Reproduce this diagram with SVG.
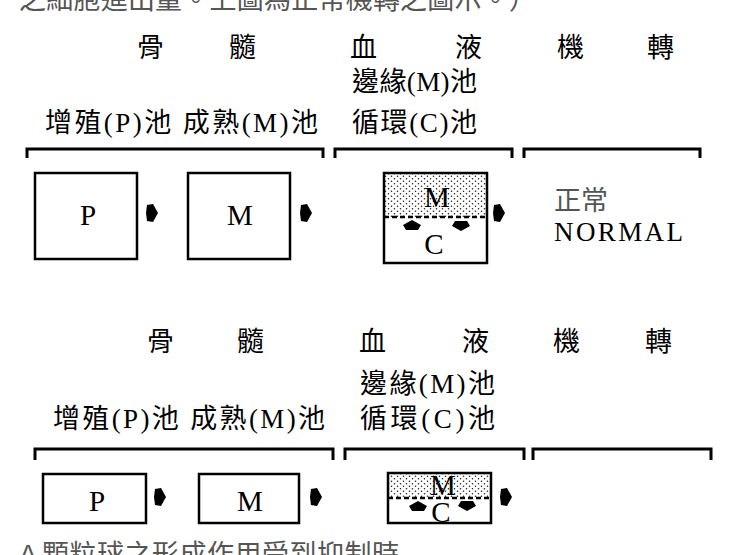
<svg xmlns="http://www.w3.org/2000/svg" width="732" height="555" viewBox="0 0 732 555">
<defs>
<pattern id="dots" width="6" height="5" patternUnits="userSpaceOnUse">
<rect width="6" height="5" fill="#fff"/>
<circle cx="1.5" cy="1.2" r="0.8" fill="#222"/>
<circle cx="4.5" cy="3.7" r="0.8" fill="#222"/>
</pattern>
<path id="arr" d="M-5,-8 L1,-9 L6,0 L1,9 L-5,8 L-6,0 Z" fill="#000"/>
<path id="up" d="M0,-6 L9,-1 L6,4 L-6,4 L-9,-1 Z" fill="#000"/>
<path id="down" d="M0,6 L9,1 L6,-4 L-6,-4 L-9,1 Z" fill="#000"/>
</defs>
<style>
.t{font-family:"Liberation Serif","Noto Sans CJK TC",serif;font-size:27px;fill:#000}
.g{fill:#555}
.l{font-family:"Liberation Serif",serif;font-size:29px;text-anchor:middle;fill:#000}
.box{fill:#fff;stroke:#000;stroke-width:2.5}
.br{fill:none;stroke:#000;stroke-width:3}
.dash{stroke:#000;stroke-width:2.5;stroke-dasharray:5 3}
</style>
<rect width="732" height="555" fill="#fff"/>

<text class="t g" x="19" y="9" font-size="26" textLength="517">之細胞進出量。上圖為正常機轉之圖示。）</text>

<g id="top-headers">
<text class="t" x="137" y="57">骨</text>
<text class="t" x="229" y="57">髓</text>
<text class="t" x="350" y="57">血</text>
<text class="t" x="455" y="57">液</text>
<text class="t" x="557" y="57">機</text>
<text class="t" x="647" y="57">轉</text>
<text class="t" x="352" y="91" textLength="125">邊緣(M)池</text>
<text class="t" x="45" y="132" textLength="273">增殖(P)池 成熟(M)池</text>
<text class="t" x="352" y="132" textLength="125">循環(C)池</text>
<path class="br" d="M27,158 V149 H323 V158"/>
<path class="br" d="M335,158 V149 H512 V158"/>
<path class="br" d="M524,158 V149 H700 V158"/>
</g>

<g id="top-P"><rect class="box" x="35" y="173" width="102" height="86"/><text class="l" x="88" y="225">P</text></g>
<g id="top-M"><rect class="box" x="188" y="173" width="102" height="86"/><text class="l" x="240" y="225">M</text></g>
<g id="top-blood">
<rect x="384" y="173" width="103" height="44" fill="url(#dots)"/>
<rect x="384" y="173" width="103" height="90" fill="none" stroke="#000" stroke-width="2.5"/>
<line class="dash" x1="384" y1="217" x2="487" y2="217"/>
<text class="l" x="437" y="207">M</text>
<text class="l" x="434" y="254">C</text>
</g>
<g id="top-normal">
<text class="t g" x="554" y="210" font-size="28">正常</text>
<text class="t" x="554" y="241" font-size="29" fill="#222" textLength="129">NORMAL</text>
</g>

<g id="bottom-headers">
<text class="t" x="147" y="351">骨</text>
<text class="t" x="237" y="351">髓</text>
<text class="t" x="359" y="351">血</text>
<text class="t" x="462" y="351">液</text>
<text class="t" x="553" y="351">機</text>
<text class="t" x="645" y="351">轉</text>
<text class="t" x="360" y="393" textLength="135">邊緣(M)池</text>
<text class="t" x="53" y="428" textLength="272">增殖(P)池 成熟(M)池</text>
<text class="t" x="360" y="428" textLength="135">循環(C)池</text>
<path class="br" d="M35,460 V449 H333 V460"/>
<path class="br" d="M345,460 V449 H524 V460"/>
<path class="br" d="M533,460 V449 H711 V460"/>
</g>

<g id="bottom-P"><rect class="box" x="43" y="474" width="103" height="49"/><text class="l" x="97" y="511">P</text></g>
<g id="bottom-M"><rect class="box" x="199" y="474" width="100" height="49"/><text class="l" x="250" y="511">M</text></g>
<g id="bottom-blood">
<rect x="388" y="473" width="103" height="25" fill="url(#dots)"/>
<rect x="388" y="473" width="103" height="50" fill="none" stroke="#000" stroke-width="2.5"/>
<line class="dash" x1="388" y1="498" x2="491" y2="498"/>
<text class="l" x="443" y="495" font-size="24">M</text>
<text class="l" x="441" y="522" font-size="23">C</text>
</g>

<g id="connectors">
<use href="#arr" x="152" y="213"/>
<use href="#arr" x="306" y="213"/>
<use href="#arr" x="499" y="213"/>
<use href="#up" x="412" y="226"/>
<use href="#down" x="461" y="225"/>
<use href="#arr" x="160" y="497"/>
<use href="#arr" x="316" y="497"/>
<use href="#arr" x="506" y="497"/>
<use href="#up" x="418" y="507"/>
<use href="#down" x="467" y="505"/>
</g>

<text class="t g" x="19" y="564" font-size="26"><tspan font-family="Liberation Sans, sans-serif">A</tspan><tspan x="42" textLength="357">顆粒球之形成作用受到抑制時</tspan></text>
</svg>
